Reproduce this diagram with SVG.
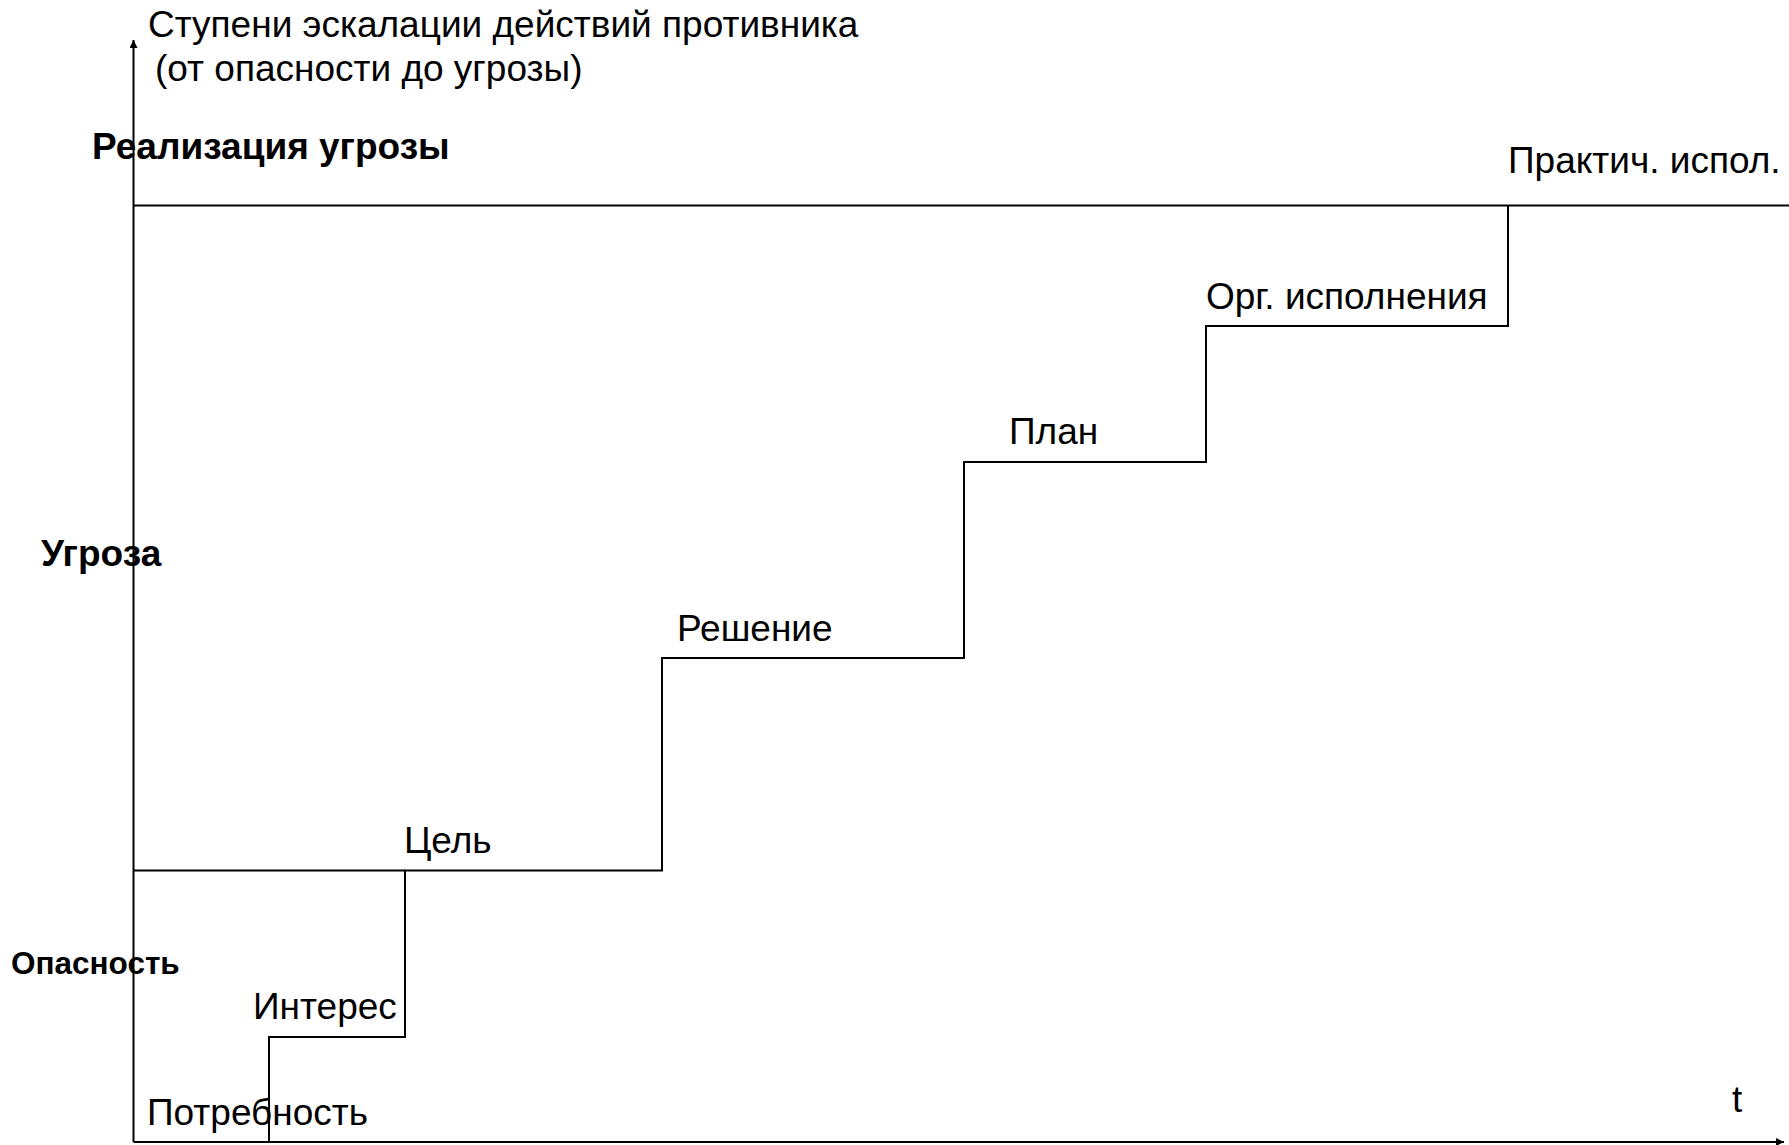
<svg xmlns="http://www.w3.org/2000/svg" width="1789" height="1145" viewBox="0 0 1789 1145">
<style>
.t{font-family:"Liberation Sans",Arial,sans-serif;font-size:37px;fill:#000}
.b{font-family:"Liberation Sans",Arial,sans-serif;font-weight:bold;fill:#000}
.ln{stroke:#000;stroke-width:2;fill:none}
</style>
<defs>
<marker id="ah" viewBox="0 0 10 10" refX="10" refY="5" markerWidth="12" markerHeight="8" markerUnits="userSpaceOnUse" orient="auto"><path d="M0,0 L10,5 L0,10 z" fill="#000"/></marker>
</defs>
<rect width="1789" height="1145" fill="#fff"/>
<g id="connectors">
<line class="ln" x1="133.5" y1="1142" x2="133.5" y2="40" marker-end="url(#ah)"/>
<line class="ln" x1="133.5" y1="1142" x2="1784" y2="1142" marker-end="url(#ah)"/>
<line class="ln" x1="133.5" y1="205.5" x2="1789" y2="205.5"/>
<line class="ln" x1="133.5" y1="870.5" x2="405" y2="870.5"/>
<polyline class="ln" points="269,1142 269,1037 405,1037 405,870.5 662,870.5 662,658 964,658 964,462 1206,462 1206,326 1508,326 1508,205.5"/>
</g>
<g id="axis-title">
<text class="t" x="148" y="37">Ступени эскалации действий противника</text>
<text class="t" x="155" y="81" font-size="37.5">(от опасности до угрозы)</text>
</g>
<g id="level-realization"><text class="b" x="92" y="159" font-size="37">Реализация угрозы</text></g>
<g id="level-threat"><text class="b" x="41" y="566" font-size="37">Угроза</text></g>
<g id="level-danger"><text class="b" x="11" y="974" font-size="31.5">Опасность</text></g>
<g id="step-need"><text class="t" x="147" y="1125">Потребность</text></g>
<g id="step-interest"><text class="t" x="253" y="1019">Интерес</text></g>
<g id="step-goal"><text class="t" x="404" y="853">Цель</text></g>
<g id="step-decision"><text class="t" x="677" y="641">Решение</text></g>
<g id="step-plan"><text class="t" x="1009" y="444">План</text></g>
<g id="step-org"><text class="t" x="1206" y="309">Орг. исполнения</text></g>
<g id="step-practical"><text class="t" x="1508" y="173">Практич. испол.</text></g>
<g id="time-label"><text class="t" x="1732" y="1112" font-size="57">t</text></g>
</svg>
